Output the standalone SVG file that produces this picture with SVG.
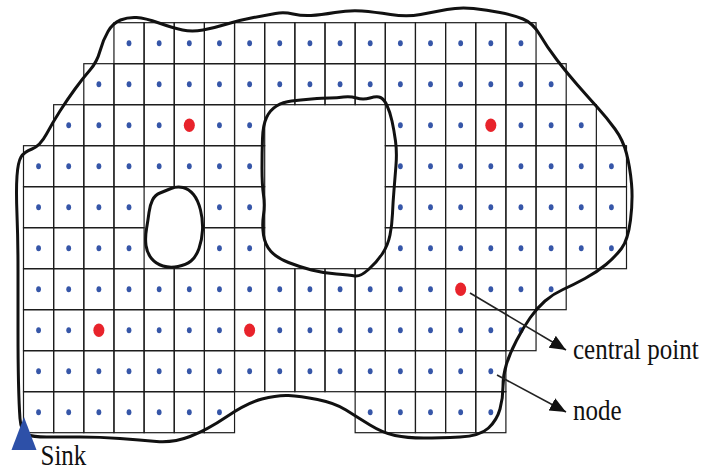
<svg xmlns="http://www.w3.org/2000/svg" width="702" height="472" viewBox="0 0 702 472">
<style>
.cell{fill:none;stroke:#1c1c1c;stroke-width:1.2}
.bd{fill:none;stroke:#111;stroke-width:3;stroke-linejoin:round}
.ar{fill:none;stroke:#222;stroke-width:1.6}
.lbl{font-family:"Liberation Serif","Times New Roman",serif;font-size:25px;fill:#111}
</style>
<defs>
<g id="c"><rect class="cell" width="30.15" height="41"/><ellipse cx="15.07" cy="20.5" rx="2.4" ry="3" fill="#3656A8"/></g>
<g id="cr"><rect class="cell" width="30.15" height="41"/><ellipse cx="15.07" cy="20.5" rx="5.5" ry="6.8" fill="#E8232B"/></g>
<marker id="ah" markerUnits="userSpaceOnUse" markerWidth="20" markerHeight="16" refX="16" refY="7" orient="auto"><path d="M0,0 L16,7 L0,14 Z" fill="#111"/></marker>
</defs>
<g id="grid">
<g id="row0">
<use href="#c" x="113.95" y="22.7"/><use href="#c" x="144.1" y="22.7"/><use href="#c" x="174.25" y="22.7"/><use href="#c" x="204.4" y="22.7"/><use href="#c" x="234.55" y="22.7"/><use href="#c" x="264.7" y="22.7"/><use href="#c" x="294.85" y="22.7"/><use href="#c" x="325" y="22.7"/><use href="#c" x="355.15" y="22.7"/><use href="#c" x="385.3" y="22.7"/><use href="#c" x="415.45" y="22.7"/><use href="#c" x="445.6" y="22.7"/><use href="#c" x="475.75" y="22.7"/><use href="#c" x="505.9" y="22.7"/>
</g>
<g id="row1">
<use href="#c" x="83.8" y="63.7"/><use href="#c" x="113.95" y="63.7"/><use href="#c" x="144.1" y="63.7"/><use href="#c" x="174.25" y="63.7"/><use href="#c" x="204.4" y="63.7"/><use href="#c" x="234.55" y="63.7"/><use href="#c" x="264.7" y="63.7"/><use href="#c" x="294.85" y="63.7"/><use href="#c" x="325" y="63.7"/><use href="#c" x="355.15" y="63.7"/><use href="#c" x="385.3" y="63.7"/><use href="#c" x="415.45" y="63.7"/><use href="#c" x="445.6" y="63.7"/><use href="#c" x="475.75" y="63.7"/><use href="#c" x="505.9" y="63.7"/><use href="#c" x="536.05" y="63.7"/>
</g>
<g id="row2">
<use href="#c" x="53.65" y="104.7"/><use href="#c" x="83.8" y="104.7"/><use href="#c" x="113.95" y="104.7"/><use href="#c" x="144.1" y="104.7"/><use href="#cr" x="174.25" y="104.7"/><use href="#c" x="204.4" y="104.7"/><use href="#c" x="234.55" y="104.7"/><use href="#c" x="385.3" y="104.7"/><use href="#c" x="415.45" y="104.7"/><use href="#c" x="445.6" y="104.7"/><use href="#cr" x="475.75" y="104.7"/><use href="#c" x="505.9" y="104.7"/><use href="#c" x="536.05" y="104.7"/><use href="#c" x="566.2" y="104.7"/>
</g>
<g id="row3">
<use href="#c" x="23.5" y="145.7"/><use href="#c" x="53.65" y="145.7"/><use href="#c" x="83.8" y="145.7"/><use href="#c" x="113.95" y="145.7"/><use href="#c" x="144.1" y="145.7"/><use href="#c" x="174.25" y="145.7"/><use href="#c" x="204.4" y="145.7"/><use href="#c" x="234.55" y="145.7"/><use href="#c" x="385.3" y="145.7"/><use href="#c" x="415.45" y="145.7"/><use href="#c" x="445.6" y="145.7"/><use href="#c" x="475.75" y="145.7"/><use href="#c" x="505.9" y="145.7"/><use href="#c" x="536.05" y="145.7"/><use href="#c" x="566.2" y="145.7"/><use href="#c" x="596.35" y="145.7"/>
</g>
<g id="row4">
<use href="#c" x="23.5" y="186.7"/><use href="#c" x="53.65" y="186.7"/><use href="#c" x="83.8" y="186.7"/><use href="#c" x="113.95" y="186.7"/><use href="#c" x="204.4" y="186.7"/><use href="#c" x="234.55" y="186.7"/><use href="#c" x="385.3" y="186.7"/><use href="#c" x="415.45" y="186.7"/><use href="#c" x="445.6" y="186.7"/><use href="#c" x="475.75" y="186.7"/><use href="#c" x="505.9" y="186.7"/><use href="#c" x="536.05" y="186.7"/><use href="#c" x="566.2" y="186.7"/><use href="#c" x="596.35" y="186.7"/>
</g>
<g id="row5">
<use href="#c" x="23.5" y="227.7"/><use href="#c" x="53.65" y="227.7"/><use href="#c" x="83.8" y="227.7"/><use href="#c" x="113.95" y="227.7"/><use href="#c" x="204.4" y="227.7"/><use href="#c" x="234.55" y="227.7"/><use href="#c" x="385.3" y="227.7"/><use href="#c" x="415.45" y="227.7"/><use href="#c" x="445.6" y="227.7"/><use href="#c" x="475.75" y="227.7"/><use href="#c" x="505.9" y="227.7"/><use href="#c" x="536.05" y="227.7"/><use href="#c" x="566.2" y="227.7"/><use href="#c" x="596.35" y="227.7"/>
</g>
<g id="row6">
<use href="#c" x="23.5" y="268.7"/><use href="#c" x="53.65" y="268.7"/><use href="#c" x="83.8" y="268.7"/><use href="#c" x="113.95" y="268.7"/><use href="#c" x="144.1" y="268.7"/><use href="#c" x="174.25" y="268.7"/><use href="#c" x="204.4" y="268.7"/><use href="#c" x="234.55" y="268.7"/><use href="#c" x="264.7" y="268.7"/><use href="#c" x="294.85" y="268.7"/><use href="#c" x="325" y="268.7"/><use href="#c" x="355.15" y="268.7"/><use href="#c" x="385.3" y="268.7"/><use href="#c" x="415.45" y="268.7"/><use href="#cr" x="445.6" y="268.7"/><use href="#c" x="475.75" y="268.7"/><use href="#c" x="505.9" y="268.7"/><use href="#c" x="536.05" y="268.7"/>
</g>
<g id="row7">
<use href="#c" x="23.5" y="309.7"/><use href="#c" x="53.65" y="309.7"/><use href="#cr" x="83.8" y="309.7"/><use href="#c" x="113.95" y="309.7"/><use href="#c" x="144.1" y="309.7"/><use href="#c" x="174.25" y="309.7"/><use href="#c" x="204.4" y="309.7"/><use href="#cr" x="234.55" y="309.7"/><use href="#c" x="264.7" y="309.7"/><use href="#c" x="294.85" y="309.7"/><use href="#c" x="325" y="309.7"/><use href="#c" x="355.15" y="309.7"/><use href="#c" x="385.3" y="309.7"/><use href="#c" x="415.45" y="309.7"/><use href="#c" x="445.6" y="309.7"/><use href="#c" x="475.75" y="309.7"/><use href="#c" x="505.9" y="309.7"/>
</g>
<g id="row8">
<use href="#c" x="23.5" y="350.7"/><use href="#c" x="53.65" y="350.7"/><use href="#c" x="83.8" y="350.7"/><use href="#c" x="113.95" y="350.7"/><use href="#c" x="144.1" y="350.7"/><use href="#c" x="174.25" y="350.7"/><use href="#c" x="204.4" y="350.7"/><use href="#c" x="234.55" y="350.7"/><use href="#c" x="264.7" y="350.7"/><use href="#c" x="294.85" y="350.7"/><use href="#c" x="325" y="350.7"/><use href="#c" x="355.15" y="350.7"/><use href="#c" x="385.3" y="350.7"/><use href="#c" x="415.45" y="350.7"/><use href="#c" x="445.6" y="350.7"/><use href="#c" x="475.75" y="350.7"/>
</g>
<g id="row9">
<use href="#c" x="23.5" y="391.7"/><use href="#c" x="53.65" y="391.7"/><use href="#c" x="83.8" y="391.7"/><use href="#c" x="113.95" y="391.7"/><use href="#c" x="144.1" y="391.7"/><use href="#c" x="174.25" y="391.7"/><use href="#c" x="204.4" y="391.7"/><use href="#c" x="355.15" y="391.7"/><use href="#c" x="385.3" y="391.7"/><use href="#c" x="415.45" y="391.7"/><use href="#c" x="445.6" y="391.7"/><use href="#c" x="475.75" y="391.7"/>
</g>
</g>
<g id="boundaries">
<path id="outer" class="bd" d="M27,434.5 Q21,432 20,418.5 Q19,405 18.5,382.5 Q18,360 18,330 Q18,300 18,270 Q18,240 17,215 Q16,190 17,176 Q18,162 21,157 Q24,152 32,149 Q40,146 46.5,134 Q53,122 60,111 Q67,100 75,89 Q83,78 90,70 Q97,62 100,51 Q103,40 108,31.5 Q113,23 120.5,20 Q128,17 136.5,17.5 Q145,18 159,23 Q173,28 182.5,30 Q192,32 203,30 Q214,28 227,24 Q240,20 253.5,17.5 Q267,15 275.5,13.5 Q284,12 293,14 Q302,16 311,15.5 Q320,15 335,12.5 Q350,10 362,11 Q374,12 390.5,14.5 Q407,17 420.5,14.5 Q434,12 447,9.5 Q460,7 473.5,8.5 Q487,10 500,12.5 Q513,15 523,19 Q533,23 540,35 Q547,47 557,60 Q567,73 577.5,85 Q588,97 597.5,107.5 Q607,118 615,129 Q623,140 626.5,153.5 Q630,167 631.5,183.5 Q633,200 630.5,220 Q628,240 621.5,248.5 Q615,257 606,264.5 Q597,272 585,278.5 Q573,285 563,289.5 Q553,294 545,301 Q537,308 530,318 Q523,328 516.5,340.5 Q510,353 506.5,364 Q503,375 503,386.5 Q503,398 500,409 Q497,420 488.5,428 Q480,436 460,437 Q440,438 423.5,438 Q407,438 395,435.5 Q383,433 370,425 Q357,417 346,410 Q335,403 317.5,399.5 Q300,396 288.5,395.5 Q277,395 262,399 Q247,403 227,416.5 Q207,430 190,436.5 Q173,443 156.5,441.5 Q140,440 120,438.5 Q100,437 80,437 Q60,437 46.5,437 Q33,437 27,434.5 Z"/>
<path id="hole-large" class="bd" d="M262.5,138.5 Q263,125 266.5,117.5 Q270,110 276.5,106 Q283,102 291.5,101 Q300,100 311.5,99 Q323,98 330,98 Q337,98 343.5,97 Q350,96 356.5,98 Q363,100 370,98 Q377,96 380.5,97.5 Q384,99 387,105.5 Q390,112 392,121 Q394,130 395.5,141 Q397,152 396,165 Q395,178 394,190 Q393,202 392.5,213.5 Q392,225 390,235 Q388,245 382.5,253.5 Q377,262 368.5,269.5 Q360,277 355,276 Q350,275 336.5,274 Q323,273 311.5,270 Q300,267 288.5,262.5 Q277,258 271,251.5 Q265,245 263.5,235 Q262,225 263.5,215 Q265,205 263.5,195 Q262,185 262,168.5 Q262,152 262.5,138.5 Z"/>
<path id="hole-small" class="bd" d="M149,212.5 Q150,205 152.5,200 Q155,195 160,193 Q165,191 171,188.5 Q177,186 183,187.5 Q189,189 193.5,194.5 Q198,200 200.5,210 Q203,220 202.5,230 Q202,240 199,248.5 Q196,257 191,261 Q186,265 178,266.5 Q170,268 163,266 Q156,264 151.5,258.5 Q147,253 146,245.5 Q145,238 146.5,229 Q148,220 149,212.5 Z"/>
</g>
<g id="sink">
<polygon points="24,417 11.5,450 36.5,450" fill="#2D50A8"/>
<text class="lbl" transform="translate(40.5,465) scale(1,1.2)">Sink</text>
</g>
<g id="connectors">
<line class="ar" x1="470" y1="293" x2="566" y2="350" marker-end="url(#ah)"/>
<line class="ar" x1="497" y1="375" x2="566" y2="412" marker-end="url(#ah)"/>
</g>
<g id="labels">
<text class="lbl" transform="translate(573,359) scale(1,1.22)">central point</text>
<text class="lbl" transform="translate(573,420) scale(1,1.22)">node</text>
</g>
</svg>
